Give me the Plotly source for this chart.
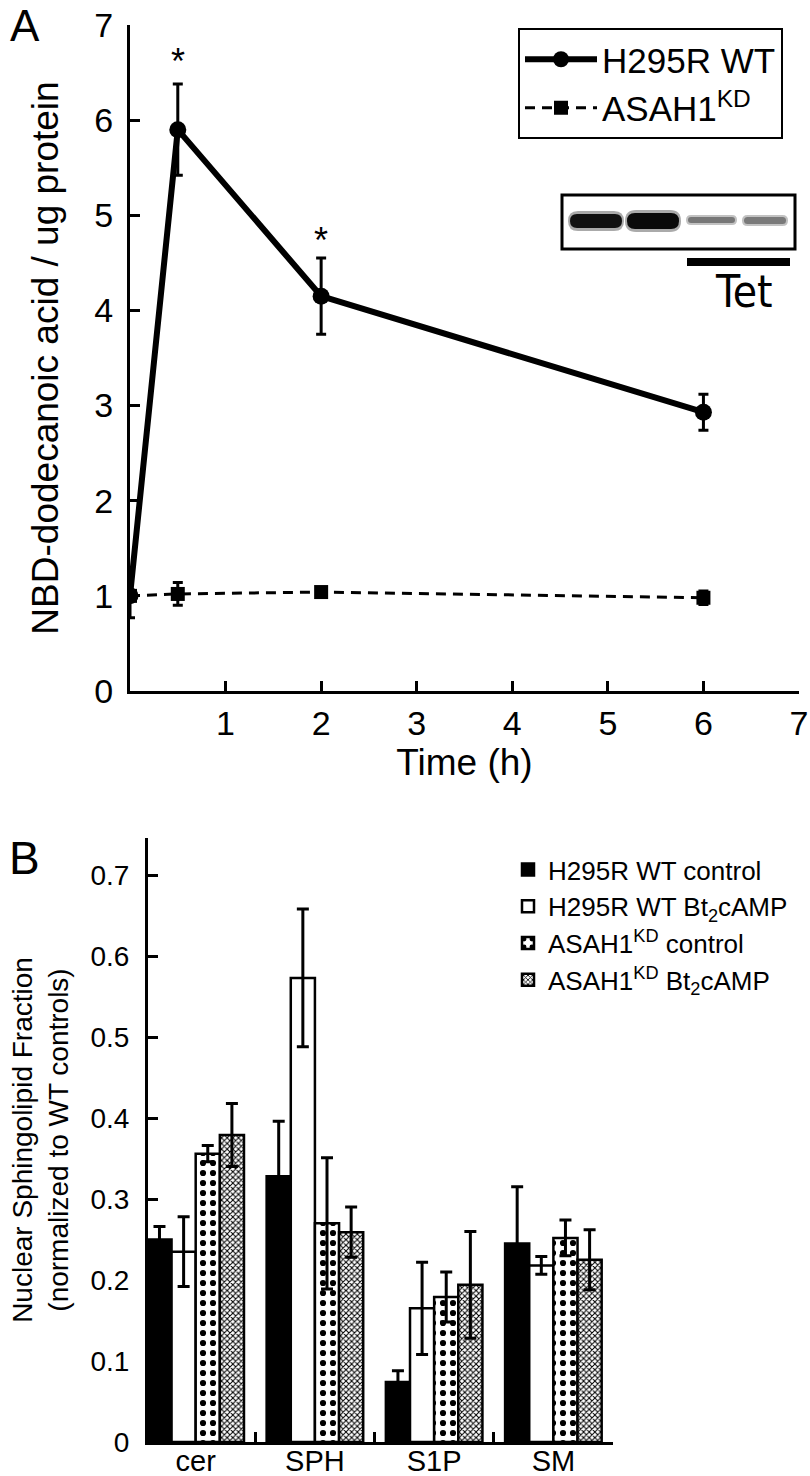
import plotly.graph_objects as go

# ---------------- Panel A data ----------------
time_h = [0, 0.5, 2, 6]
wt_vals = [1.0, 5.9, 4.15, 2.93]
wt_err = [0.23, 0.48, 0.40, 0.19]
kd_vals = [1.0, 1.02, 1.04, 0.98]
kd_err = [0.0, 0.12, 0.03, 0.07]
star_x = [0.5, 2]
star_y = [6.62, 4.74]

# ---------------- Panel B data ----------------
lipids = ["cer", "SPH", "S1P", "SM"]
wt_ctrl = [0.25, 0.328, 0.074, 0.245]
wt_ctrl_err = [0.016, 0.068, 0.014, 0.07]
wt_bt = [0.235, 0.573, 0.165, 0.218]
wt_bt_err = [0.043, 0.085, 0.057, 0.011]
kd_ctrl = [0.356, 0.27, 0.179, 0.252]
kd_ctrl_err = [0.01, 0.081, 0.031, 0.022]
kd_bt = [0.379, 0.259, 0.194, 0.225]
kd_bt_err = [0.039, 0.031, 0.066, 0.037]

W, H = 810, 1476
FONT = "Liberation Sans, Arial, sans-serif"


def px(x):
    return x / W


def py(y):
    return 1 - y / H


fig = go.Figure()

# Panel A traces
fig.add_trace(go.Scatter(
    x=time_h, y=wt_vals, name="H295R WT", mode="lines+markers",
    line=dict(color="black", width=6),
    marker=dict(symbol="circle", size=17, color="black"),
    error_y=dict(type="data", array=wt_err, color="black", thickness=3, width=5),
    xaxis="x", yaxis="y", legend="legend",
))
fig.add_trace(go.Scatter(
    x=time_h, y=kd_vals, name="ASAH1<sup>KD</sup>", mode="lines+markers",
    line=dict(color="black", width=3, dash="10px,7px"),
    marker=dict(symbol="square", size=14, color="black"),
    error_y=dict(type="data", array=kd_err, color="black", thickness=3, width=5),
    xaxis="x", yaxis="y", legend="legend",
))

# Panel B traces
bar_specs = [
    ("H295R WT control", wt_ctrl, wt_ctrl_err, dict(color="black")),
    ("H295R WT Bt<sub>2</sub>cAMP", wt_bt, wt_bt_err, dict(color="white")),
    ("ASAH1<sup>KD</sup> control", kd_ctrl, kd_ctrl_err,
     dict(color="white", pattern=dict(shape=".", size=10, solidity=0.3, fgcolor="black", bgcolor="white", fillmode="replace"))),
    ("ASAH1<sup>KD</sup> Bt<sub>2</sub>cAMP", kd_bt, kd_bt_err,
     dict(color="white", pattern=dict(shape="x", size=4, solidity=0.45, fgcolor="black", bgcolor="white", fillmode="replace"))),
]
for name, vals, errs, mk in bar_specs:
    mk = dict(mk)
    mk["line"] = dict(color="black", width=2.5)
    fig.add_trace(go.Bar(
        x=lipids, y=vals, name=name, marker=mk,
        error_y=dict(type="data", array=errs, color="black", thickness=3, width=6),
        xaxis="x2", yaxis="y2", legend="legend2",
    ))

axis_common = dict(
    showline=True, linecolor="black", linewidth=3, ticks="inside",
    tickcolor="black", tickwidth=3, showgrid=False, zeroline=False,
    automargin=False,
)

fig.update_layout(
    width=W, height=H,
    margin=dict(l=0, r=0, t=0, b=0),
    paper_bgcolor="white", plot_bgcolor="white",
    font=dict(family=FONT, color="black"),
    barmode="group", bargap=0.19, bargroupgap=0,
    xaxis=dict(
        **axis_common, domain=[px(130), px(799)], range=[0, 7],
        tickvals=[1, 2, 3, 4, 5, 6, 7], ticklen=10, anchor="y",
        tickfont=dict(size=34), ticklabelstandoff=0,
        title=dict(text="Time (h)", font=dict(size=37), standoff=0),
    ),
    yaxis=dict(
        **axis_common, domain=[py(691), py(25)], range=[0, 7],
        tickvals=[0, 1, 2, 3, 4, 5, 6, 7], ticklen=10, anchor="x",
        tickfont=dict(size=34), ticklabelstandoff=7,
        title=dict(text="NBD-dodecanoic acid / ug protein", font=dict(size=37), standoff=25),
    ),
    xaxis2=dict(
        **axis_common, domain=[px(148), px(613)], range=[-0.4, 3.5],
        type="category", tickson="boundaries", ticklen=10, anchor="y2",
        tickfont=dict(size=29), ticklabelstandoff=-9,
    ),
    yaxis2=dict(
        **axis_common, domain=[py(1442), py(838)], range=[0, 0.7457],
        tickvals=[0, 0.1, 0.2, 0.3, 0.4, 0.5, 0.6, 0.7],
        ticktext=["0", "0.1", "0.2", "0.3", "0.4", "0.5", "0.6", "0.7"],
        ticklen=10, anchor="x2",
        tickfont=dict(size=28), ticklabelstandoff=10,
        title=dict(text="Nuclear Sphingolipid Fraction<br>(normalized to WT controls)",
                   font=dict(size=28), standoff=14),
    ),
    legend=dict(
        x=px(518), y=py(28), xanchor="left", yanchor="top",
        bordercolor="black", borderwidth=2, bgcolor="white",
        font=dict(size=35), itemwidth=72, tracegroupgap=0,
    ),
    legend2=dict(
        x=px(508), y=py(846), xanchor="left", yanchor="top",
        bgcolor="rgba(0,0,0,0)", borderwidth=0,
        font=dict(size=26), tracegroupgap=0,
    ),
)

# significance asterisks
for sx, sy in zip(star_x, star_y):
    fig.add_annotation(x=sx, y=sy, xref="x", yref="y", text="*", showarrow=False,
                       xanchor="center", yanchor="middle",
                       font=dict(size=36, family=FONT))

# panel letters
fig.add_annotation(x=px(25), y=py(0), xref="paper", yref="paper", text="A",
                   xanchor="center", yanchor="top", borderpad=0,
                   showarrow=False, font=dict(size=44, family=FONT))
fig.add_annotation(x=px(24), y=py(858), xref="paper", yref="paper", text="B",
                   xanchor="center", yanchor="middle",
                   showarrow=False, font=dict(size=46, family=FONT))

# western blot inset (drawn decoration)
fig.add_shape(type="rect", xref="paper", yref="paper",
              x0=px(562), x1=px(795), y0=py(249), y1=py(195),
              line=dict(color="black", width=3), fillcolor="white")


def band(x0, x1, y0, y1, color, opacity=1.0):
    r = (y1 - y0) / 2
    path = (f"M {px(x0 + r)},{py(y0)} L {px(x1 - r)},{py(y0)} "
            f"Q {px(x1)},{py(y0)} {px(x1)},{py(y0 + r)} "
            f"Q {px(x1)},{py(y1)} {px(x1 - r)},{py(y1)} "
            f"L {px(x0 + r)},{py(y1)} Q {px(x0)},{py(y1)} {px(x0)},{py(y0 + r)} "
            f"Q {px(x0)},{py(y0)} {px(x0 + r)},{py(y0)} Z")
    fig.add_shape(type="path", xref="paper", yref="paper", path=path,
                  fillcolor=color, line=dict(width=0), opacity=opacity)


band(568, 624, 211, 231, "#555", 0.5)
band(570, 622, 214, 228, "#111")
band(625, 681, 210, 232, "#555", 0.5)
band(627, 679, 213, 229, "#0a0a0a")
band(686, 737, 215, 225, "#999", 0.6)
band(688, 735, 217, 223, "#777")
band(742, 788, 215, 226, "#999", 0.6)
band(744, 786, 217, 224, "#7a7a7a")

fig.add_shape(type="rect", xref="paper", yref="paper",
              x0=px(687), x1=px(790), y0=py(266), y1=py(258),
              line=dict(width=0), fillcolor="black")
fig.add_annotation(x=px(744), y=py(292), xref="paper", yref="paper", text="Tet",
                   xanchor="center", yanchor="middle", showarrow=False,
                   font=dict(size=44, family="Liberation Sans Narrow, DejaVu Sans Condensed, Liberation Sans, Arial"))

fig.write_html("out.html", config={"displayModeBar": False},
               post_script="document.body.style.margin='0';")
